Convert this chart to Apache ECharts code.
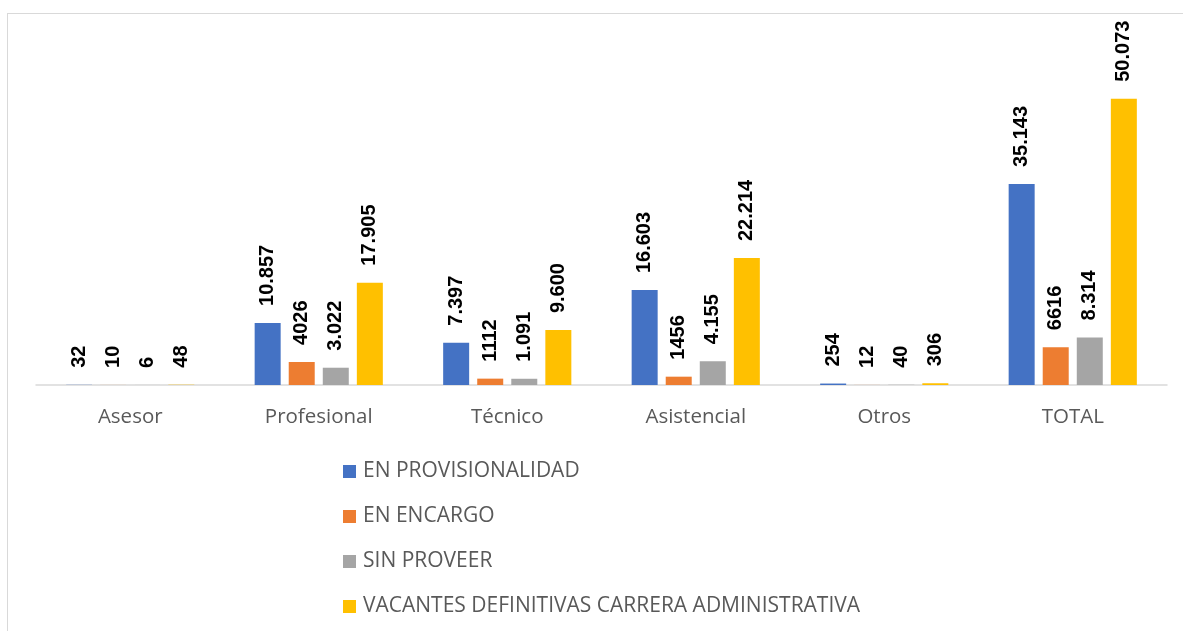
<!DOCTYPE html>
<html>
<head>
<meta charset="utf-8">
<script src="https://cdn.jsdelivr.net/npm/echarts@6/dist/echarts.min.js"></script>
<style>
    html, body { margin: 0; padding: 0; background: #fff; }
    #frame {
        position: absolute; left: 7px; top: 13px;
        width: 1200px; height: 640px;
        border: 1.5px solid #d9d9d9;
    }
    #chart { position: absolute; left: 0; top: 0; width: 1183px; height: 631px; }
</style>
</head>
<body>
<div id="frame"></div>
<div id="chart"></div>
<script>
    var categories = ['Asesor', 'Profesional', 'Técnico', 'Asistencial', 'Otros', 'TOTAL'];
    var seriesNames = ['EN PROVISIONALIDAD', 'EN ENCARGO', 'SIN PROVEER', 'VACANTES DEFINITIVAS CARRERA ADMINISTRATIVA'];

    var provisionalidad = [32, 10857, 7397, 16603, 254, 35143];
    var encargo = [10, 4026, 1112, 1456, 12, 6616];
    var sinProveer = [6, 3022, 1091, 4155, 40, 8314];
    var vacantes = [48, 17905, 9600, 22214, 306, 50073];

    // etiquetas tal como aparecen en la imagen
    var provisionalidadTxt = ['32', '10.857', '7.397', '16.603', '254', '35.143'];
    var encargoTxt = ['10', '4026', '1112', '1456', '12', '6616'];
    var sinProveerTxt = ['6', '3.022', '1.091', '4.155', '40', '8.314'];
    var vacantesTxt = ['48', '17.905', '9.600', '22.214', '306', '50.073'];

    var colors = ['#4472C4', '#ED7D31', '#A5A5A5', '#FFC000'];
    var values = [provisionalidad, encargo, sinProveer, vacantes];
    var texts = [provisionalidadTxt, encargoTxt, sinProveerTxt, vacantesTxt];

    var series = seriesNames.map(function (name, i) {
        return {
            name: name,
            type: 'bar',
            barWidth: 26,
            barGap: '31%',
            itemStyle: { color: colors[i] },
            label: {
                show: true,
                position: 'top',
                rotate: 90,
                align: 'left',
                verticalAlign: 'middle',
                distance: 17,
                color: '#000',
                fontWeight: 'bold',
                fontSize: 20,
                fontFamily: 'Liberation Sans, Arial, sans-serif',
                formatter: function (p) { return texts[i][p.dataIndex]; }
            },
            data: values[i]
        };
    });

    var option = {
        animation: false,
        color: colors,
        grid: { left: 36, right: 16, top: 42, height: 343 },
        legend: {
            orient: 'vertical',
            left: 338,
            top: 456,
            height: 175,
            itemWidth: 13,
            itemHeight: 13,
            itemGap: 24,
            icon: 'rect',
            textStyle: { color: '#595959', fontSize: 21, fontFamily: 'Open Sans, sans-serif', padding: [0, 0, 0, 2] },
            data: seriesNames
        },
        xAxis: {
            type: 'category',
            data: categories,
            axisLine: { lineStyle: { color: '#d9d9d9', width: 1.5 } },
            axisTick: { show: false },
            axisLabel: { color: '#595959', fontSize: 20.5, margin: 22, fontFamily: 'Open Sans, sans-serif' }
        },
        yAxis: {
            type: 'value',
            min: 0,
            max: 60000,
            show: false,
            splitLine: { show: false }
        },
        series: series
    };

    var mychart = echarts.init(document.getElementById('chart'));
    mychart.setOption(option);
</script>
</body>
</html>
